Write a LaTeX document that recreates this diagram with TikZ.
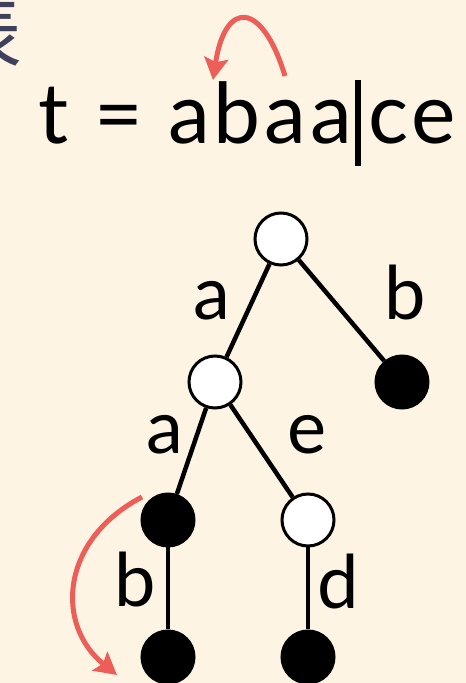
\documentclass[tikz,border=0pt]{standalone}
\usepackage{fontspec}
\setmainfont{Lato}
\newfontfamily\cjkfont{Noto Sans CJK SC}
\newfontfamily\widefont[LetterSpace=4.5]{Lato}
\usetikzlibrary{arrows.meta, positioning}
\definecolor{slidebg}{RGB}{253,244,228}
\definecolor{backred}{RGB}{238,94,88}
\definecolor{titleslate}{RGB}{62,64,92}
\tikzset{
  vertex/.style={
    circle,
    draw=black,
    line width=3pt,
    minimum size=52pt,
    inner sep=0pt
  },
  plainnode/.style={vertex, fill=white},
  wordnode/.style={vertex, fill=black},
  edge/.style={line width=4.5pt},
  lbl/.style={font=\fontsize{74}{74}\selectfont, inner sep=0pt, anchor=base},
  jump/.style={-{Stealth[length=22pt, width=24pt, inset=4pt]}, line width=5pt, draw=backred}
}

\begin{document}
\begin{tikzpicture}[
    x=1pt, y=1pt,
    node distance=140pt and 60pt,
    on grid
]
\useasboundingbox (0,0) rectangle (466,683);
\fill[slidebg] (0,0) rectangle (466,683);

% cut title
\node[anchor=north east, inner sep=0pt, text=titleslate, font=\cjkfont\fontsize{80}{80}\selectfont] (title) at (23,688) {表};

% text with cursor
\node[anchor=base east, inner sep=0pt, font=\widefont\fontsize{84}{84}\selectfont] (tleft) at (352,539) {t = abaa};
\node[anchor=base west, inner sep=0pt, font=\widefont\fontsize{84}{84}\selectfont] (tright) at (368,539) {ce};
\coordinate (bartop) at (358,603);
\coordinate (barbot) at (358,517);
\draw[line width=6pt] (bartop) -- (barbot);

% trie
\node[plainnode] (root) at (281,444) {};
\node[plainnode, below left=143pt and 66pt of root] (na) {};
\node[wordnode, below right=143pt and 121pt of root] (nb) {};
\node[wordnode, below left=138pt and 47pt of na] (naa) {};
\node[plainnode, below right=138pt and 93pt of na] (nae) {};
\node[wordnode, below=137pt of naa] (naab) {};
\node[wordnode, below=137pt of nae] (naed) {};

\draw[edge] (root) -- (na);
\draw[edge] (root) -- (nb);
\draw[edge] (na) -- (naa);
\draw[edge] (na) -- (nae);
\draw[edge] (naa) -- (naab);
\draw[edge] (nae) -- (naed);

\node[lbl] (la) at (212,363) {a};
\node[lbl] (lb) at (405,363) {b};
\node[lbl] (laa) at (165,229) {a};
\node[lbl] (lae) at (307,229) {e};
\node[lbl] (laab) at (135,76) {b};
\node[lbl] (laed) at (338,74) {d};

% back jumps
\coordinate (topfrom) at (285,607);
\coordinate (topto) at (213,603);
\draw[jump] (topfrom) .. controls (262,683) and (225,683) .. (topto);
\coordinate (lowfrom) at (142,186);
\coordinate (lowto) at (117,8);
\draw[jump] (lowfrom) .. controls (60,143) and (55,58) .. (lowto);

\end{tikzpicture}
\end{document}
